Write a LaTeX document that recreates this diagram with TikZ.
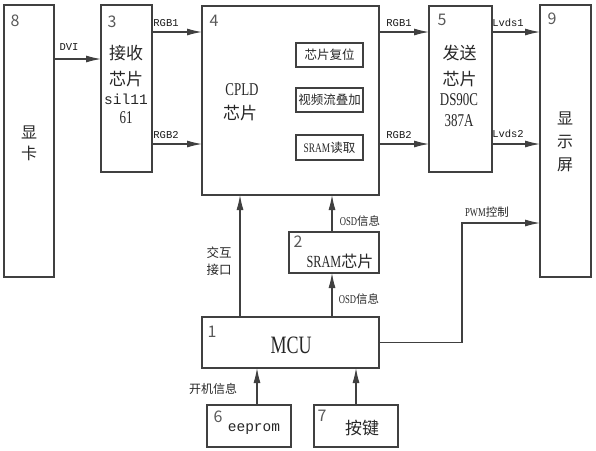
\documentclass[tikz,border=0pt]{standalone}
\usepackage{fontspec}
\setmainfont{Liberation Serif}
\newfontfamily\cjk{Noto Sans CJK SC}
\newfontfamily\nserif[FakeStretch=0.72]{Liberation Serif}
\newfontfamily\mono{Liberation Mono}
\usetikzlibrary{arrows.meta}
\definecolor{ln}{HTML}{404040}
\tikzset{
  box/.style={draw=ln, line width=1.1pt, rectangle, inner sep=0pt, outer sep=0pt},
  arr/.style={draw=ln, line width=1.1pt, -{Latex[length=15pt,width=7pt]}},
  num/.style={inner sep=0pt, font=\cjk\fontsize{16}{16}\selectfont, text=black!65},
  big/.style={inner sep=0pt, font=\cjk\fontsize{17}{17}\selectfont, text=black!85},
  lat/.style={inner sep=0pt, font=\nserif\fontsize{18}{18}\selectfont, text=black!85},
  mon/.style={inner sep=0pt, font=\mono\fontsize{14.5}{14.5}\selectfont, text=black!85},
  lbl/.style={inner sep=0pt, font=\mono\fontsize{10.5}{10.5}\selectfont, text=black!90},
  zl/.style={inner sep=0pt, font=\cjk\fontsize{11.5}{11.5}\selectfont, text=black!85},
  inner/.style={inner sep=0pt, font=\cjk\fontsize{12.5}{12.5}\selectfont, text=black!85},
}
\begin{document}
\begin{tikzpicture}[x=1pt,y=-1pt]
\useasboundingbox (0,0) rectangle (596,450);
% boxes
\node[box, minimum width=50pt, minimum height=272pt] (b8) at (29,141) {};
\node[box, minimum width=51pt, minimum height=167pt] (b3) at (126.5,88.5) {};
\node[box, minimum width=177pt, minimum height=189pt] (b4) at (290.5,100.5) {};
\node[box, minimum width=63pt, minimum height=166pt] (b5) at (460.5,89) {};
\node[box, minimum width=51pt, minimum height=272pt] (b9) at (565.5,141) {};
\node[box, minimum width=67pt, minimum height=24pt] (i1) at (329.5,55) {};
\node[box, minimum width=67pt, minimum height=24pt] (i2) at (329.5,100) {};
\node[box, minimum width=67pt, minimum height=25pt] (i3) at (329.5,147.5) {};
\node[box, minimum width=90pt, minimum height=41pt] (b2) at (334,252.5) {};
\node[box, minimum width=177pt, minimum height=51pt] (b1) at (290.5,342.5) {};
\node[box, minimum width=84pt, minimum height=42pt] (b6) at (249,426) {};
\node[box, minimum width=84pt, minimum height=42pt] (b7) at (356,426) {};
% inner texts
\node[inner] (i1t) at (i1) {芯片复位};
\node[inner] (i2t) at (i2) {视频流叠加};
\node[inner] (i3t) at (i3) {{\nserif\fontsize{13}{13}\selectfont SRAM}读取};
% box 8
\node[num] (n8) at (15,21) {8};
\node[big, font=\cjk\fontsize{16}{16}\selectfont] (t8a) at (29,132) {显};
\node[big, font=\cjk\fontsize{16}{16}\selectfont] (t8b) at (29,153) {卡};
% box 3
\node[num] (n3) at (112,22) {3};
\node[big] (t3a) at (126,53) {接收};
\node[big] (t3b) at (126,79) {芯片};
\node[mon] (t3c) at (126,99) {sil11};
\node[lat] (t3d) at (126,118) {61};
% box 4
\node[num] (n4) at (214,21) {4};
\node[lat] (t4a) at (242,90) {CPLD};
\node[big] (t4b) at (240,113) {芯片};
% box 5
\node[num] (n5) at (442,20) {5};
\node[big] (t5a) at (459.5,53) {发送};
\node[big] (t5b) at (459.5,79) {芯片};
\node[lat] (t5c) at (459,100) {DS90C};
\node[lat] (t5d) at (459,121) {387A};
% box 9
\node[num] (n9) at (552,19) {9};
\node[big, font=\cjk\fontsize{16}{16}\selectfont] (t9a) at (565,118) {显};
\node[big, font=\cjk\fontsize{16}{16}\selectfont] (t9b) at (565,142) {示};
\node[big, font=\cjk\fontsize{16}{16}\selectfont] (t9c) at (565,165) {屏};
% box 2
\node[num] (n2) at (298,242) {2};
\node[inner sep=0pt, text=black!85] (t2) at (340,261) {{\nserif\fontsize{17}{17}\selectfont SRAM}{\cjk\fontsize{16}{16}\selectfont 芯片}};
% box 1
\node[num] (n1) at (212,332) {1};
\node[lat, font=\nserif\fontsize{25}{25}\selectfont] (t1) at (291,345) {MCU};
% box 6, 7
\node[num] (n6) at (218,417) {6};
\node[mon] (t6) at (254,429) {eeprom};
\node[num] (n7) at (322,416) {7};
\node[big] (t7) at (362,428) {按键};
% connector helper coordinates
\coordinate (ydvi) at (0,59);
\coordinate (yr1) at (0,32);
\coordinate (yr2) at (0,144);
\coordinate (ypwm) at (0,223);
\coordinate (xif) at (240,0);
\coordinate (xosd) at (332,0);
\coordinate (xee) at (257,0);
\coordinate (xkey) at (356,0);
\coordinate (pwmc) at (462,342.5);
% connectors
\draw[arr] (b8.east |- ydvi) -- (b3.west |- ydvi);
\draw[arr] (b3.east |- yr1) -- (b4.west |- yr1);
\draw[arr] (b3.east |- yr2) -- (b4.west |- yr2);
\draw[arr] (b4.east |- yr1) -- (b5.west |- yr1);
\draw[arr] (b4.east |- yr2) -- (b5.west |- yr2);
\draw[arr] (b5.east |- yr1) -- (b9.west |- yr1);
\draw[arr] (b5.east |- yr2) -- (b9.west |- yr2);
\draw[arr] (b1.north -| xif) -- (b4.south -| xif);
\draw[arr] (b2.north -| xosd) -- (b4.south -| xosd);
\draw[arr] (b1.north -| xosd) -- (b2.south -| xosd);
\draw[arr] (b6.north -| xee) -- (b1.south -| xee);
\draw[arr] (b7.north -| xkey) -- (b1.south -| xkey);
\draw[arr] (b1.east) -- (pwmc) |- (b9.west |- ypwm);
% labels
\node[lbl] (lDVI) at (69,47) {DVI};
\node[lbl] (lR1a) at (166,23) {RGB1};
\node[lbl] (lR2a) at (166,135) {RGB2};
\node[lbl] (lR1b) at (399,23) {RGB1};
\node[lbl] (lR2b) at (399,135) {RGB2};
\node[lbl] (lL1) at (508,23) {Lvds1};
\node[lbl] (lL2) at (508,134) {Lvds2};
\node[zl] (lPWM) at (487,212) {{\nserif\fontsize{12}{12}\selectfont PWM}控制};
\node[zl] (lO1) at (360,221) {{\nserif\fontsize{12}{12}\selectfont OSD}信息};
\node[zl] (lO2) at (359,299) {{\nserif\fontsize{12}{12}\selectfont OSD}信息};
\node[zl, font=\cjk\fontsize{12.5}{12.5}\selectfont] (lJ1) at (219,253) {交互};
\node[zl, font=\cjk\fontsize{12.5}{12.5}\selectfont] (lJ2) at (219,270) {接口};
\node[zl, font=\cjk\fontsize{12}{12}\selectfont] (lK) at (213,389) {开机信息};
\end{tikzpicture}
\end{document}
